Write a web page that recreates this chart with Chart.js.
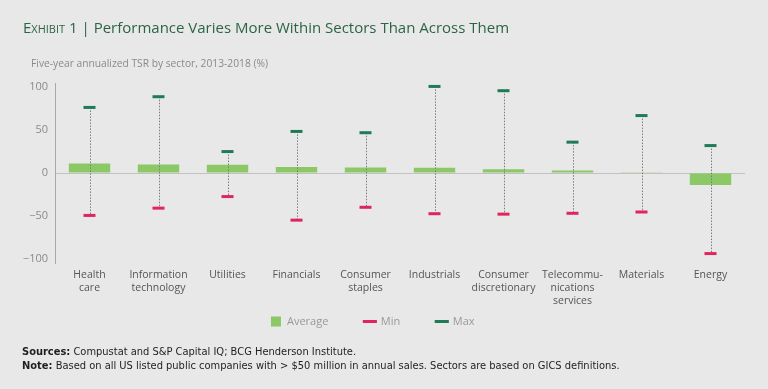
<!DOCTYPE html>
<html>
<head>
<meta charset="utf-8">
<script src="https://cdn.jsdelivr.net/npm/chart.js@4/dist/chart.umd.min.js"></script>
<style>
  html, body { margin: 0; padding: 0; }
  body { width: 768px; height: 389px; background: #e8e8e8; position: relative; overflow: hidden; font-family: "Open Sans", sans-serif; }
  #wrap { position: absolute; left: 0; top: 0; width: 768px; height: 389px; }
  .title { position: absolute; left: 23px; top: 17px; font-size: 15px; color: #2c6446; white-space: nowrap; }
  .title .ex { font-variant: small-caps; }
  .sub { position: absolute; left: 31px; top: 56px; font-size: 10.25px; color: #8a8a8a; white-space: nowrap; }
  .notes { position: absolute; left: 22px; top: 345px; font-family: "Liberation Sans Narrow", "DejaVu Sans Condensed", sans-serif; font-size: 11px; line-height: 14px; color: #1e1e1e; white-space: nowrap; }
</style>
</head>
<body>
<div id="wrap"><canvas id="myChart"></canvas></div>
<div class="title"><span class="ex">Exhibit 1</span> | Performance Varies More Within Sectors Than Across Them</div>
<div class="sub">Five-year annualized TSR by sector, 2013-2018 (%)</div>
<div class="notes">
  <div><b>Sources:</b> Compustat and S&amp;P Capital IQ; BCG Henderson Institute.</div>
  <div><b>Note:</b> Based on all US listed public companies with &gt; $50 million in annual sales. Sectors are based on GICS definitions.</div>
</div>
<script>
// five-year annualized TSR by sector, 2013-2018 (%)
const sectors = [
  ['Health', 'care'], ['Information', 'technology'], 'Utilities', 'Financials',
  ['Consumer', 'staples'], 'Industrials', ['Consumer', 'discretionary'],
  ['Telecommu-', 'nications', 'services'], 'Materials', 'Energy'
];
const avgTsr = [11, 10, 9.5, 7, 6.5, 6, 4.5, 3, 1, -14];
const minTsr = [-49.5, -41, -27.5, -55, -40, -47.5, -48, -47, -45.5, -94];
const maxTsr = [76.5, 89, 25, 48.5, 47, 101, 96, 36, 67, 32];
const yTicks = [-100, -50, 0, 50, 100];

const green = '#8cc866';
const pink = '#e0245e';
const darkGreen = '#1f7a55';

// dotted range line from min to max, over the bar but under the markers
const whiskers = {
  id: 'whiskers',
  afterDatasetDraw(chart, args) {
    if (args.index !== 0) return;
    const {ctx, scales: {x, y}} = chart;
    ctx.save();
    ctx.strokeStyle = '#7c7c7c';
    ctx.lineWidth = 1;
    ctx.setLineDash([1.5, 1.5]);
    sectors.forEach((s, i) => {
      const px = Math.round(x.getPixelForValue(i)) + 0.5;
      ctx.beginPath();
      ctx.moveTo(px, y.getPixelForValue(maxTsr[i]));
      ctx.lineTo(px, y.getPixelForValue(minTsr[i]));
      ctx.stroke();
    });
    ctx.restore();
  }
};

// legend uses wide item padding; pull it up closer to the axis labels
const LIFT = 31;
const legendLift = {
  id: 'legendLift',
  afterLayout(chart) {
    const lg = chart.legend;
    if (!lg) return;
    lg.top -= LIFT;
    lg.bottom -= LIFT;
    (lg.legendHitBoxes || []).forEach(h => { h.top -= LIFT; });
  }
};

function marker(label, data, color) {
  return {
    type: 'line', label, data, order: 1,
    showLine: false,
    pointStyle: 'line', pointRadius: 6, pointHoverRadius: 6,
    pointBorderWidth: 3, pointBorderColor: color, pointBackgroundColor: color,
    borderColor: color, backgroundColor: color
  };
}

const ctx = document.getElementById('myChart').getContext('2d');
new Chart(ctx, {
  type: 'bar',
  data: {
    labels: sectors,
    datasets: [
      { label: 'Average', data: avgTsr, backgroundColor: green, borderWidth: 0, order: 3,
        categoryPercentage: 1, barPercentage: 0.6, pointStyle: 'rect' },
      marker('Min', minTsr, pink),
      marker('Max', maxTsr, darkGreen)
    ]
  },
  options: {
    responsive: true,
    maintainAspectRatio: false,
    animation: false,
    layout: { padding: { top: 83, left: 0, right: 23, bottom: 21 } },
    plugins: {
      tooltip: { enabled: false },
      legend: {
        position: 'bottom',
        labels: {
          usePointStyle: true, boxHeight: 10, padding: 36,
          color: '#999', font: { family: 'Open Sans', size: 11 },
          sort: (a, b) => a.datasetIndex - b.datasetIndex
        }
      }
    },
    scales: {
      x: {
        grid: { display: false, drawTicks: false },
        border: { display: false },
        afterFit: s => { s.height = 48; },
        ticks: {
          color: '#555', font: { family: 'Open Sans', size: 10.5, lineHeight: 1.25 },
          maxRotation: 0, autoSkip: false, padding: 5
        }
      },
      y: {
        min: -105, max: 105,
        afterFit: s => { s.width = 55; },
        afterBuildTicks: s => { s.ticks = yTicks.map(v => ({ value: v })); },
        border: { display: true, color: '#a8a8a8', width: 1 },
        grid: {
          drawTicks: false,
          color: c => c.tick && c.tick.value === 0 ? '#c2c2c2' : 'rgba(0,0,0,0)'
        },
        ticks: {
          color: '#8a8a8a', font: { family: 'Open Sans', size: 11 }, padding: 7,
          callback: v => v < 0 ? '\u2212' + Math.abs(v) : String(v)
        }
      }
    }
  },
  plugins: [whiskers, legendLift]
});
</script>
</body>
</html>
